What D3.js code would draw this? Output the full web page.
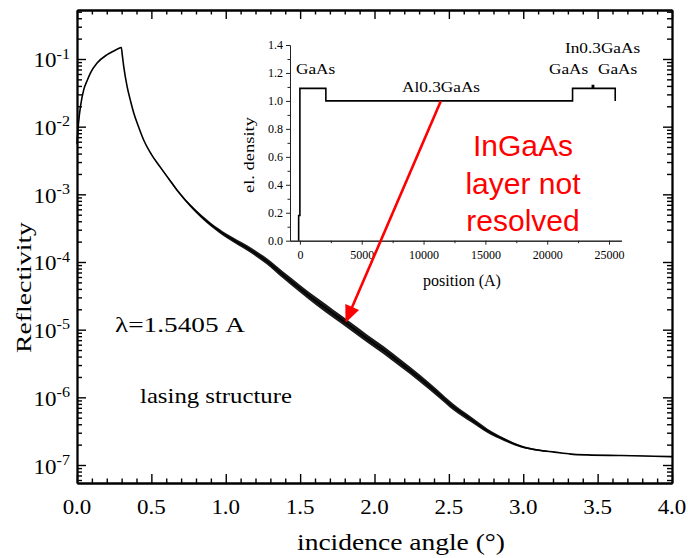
<!DOCTYPE html>
<meta charset="utf-8">
<style>
body { margin: 0; background: #fff; }
svg { display: block; }
text { font-family: "Liberation Serif", "Times New Roman", serif; fill: #000; }
.frame path, .frame line { stroke: #000; stroke-width: 1.8px; }
.inset path, .inset line { stroke: #222; stroke-width: 1px; }
</style>
<svg width="688" height="558"></svg>
<script src="https://d3js.org/d3.v7.min.js"></script>
<script>

// main curve: incidence angle (deg) vs reflectivity
var angle = [0.000, 0.010, 0.025, 0.045, 0.070, 0.090, 0.135, 0.200, 0.250, 0.287,
             0.298, 0.305, 0.314, 0.337, 0.360, 0.382, 0.410, 0.449, 0.500, 0.561,
             0.620, 0.673, 0.786, 0.898, 1.010, 1.150, 1.277, 1.390, 1.502, 1.614,
             1.726, 1.840, 1.950, 2.060, 2.175, 2.300, 2.420, 2.530, 2.650, 2.760,
             2.870, 2.980, 3.100, 3.210, 3.320, 3.430, 3.660, 3.880, 4.000];
var reflectivity = [5.6e-3, 1.12e-2, 2.1e-2, 3.5e-2, 4.9e-2, 6.2e-2, 8.7e-2, 1.15e-1, 1.32e-1, 1.45e-1,
                    1.48e-1, 1.12e-1, 7.8e-2, 3.9e-2, 2.4e-2, 1.58e-2, 1.05e-2, 6.3e-3, 3.9e-3, 2.5e-3,
                    1.66e-3, 1.15e-3, 6.0e-4, 3.6e-4, 2.4e-4, 1.58e-4, 1.02e-4, 6.3e-5, 4.0e-5, 2.57e-5,
                    1.70e-5, 1.12e-5, 7.4e-6, 5.0e-6, 3.2e-6, 1.95e-6, 1.17e-6, 7.2e-7, 4.7e-7, 3.2e-7,
                    2.4e-7, 1.9e-7, 1.66e-7, 1.55e-7, 1.45e-7, 1.41e-7, 1.38e-7, 1.35e-7, 1.33e-7];
// half width of the fringe band (decades)
var fringe = [0, 0, 0, 0, 0, 0, 0, 0, 0, 0,
              0, 0, 0, 0, 0, 0, 0, 0, 0.004, 0.008,
              0.013, 0.016, 0.022, 0.028, 0.033, 0.040, 0.046, 0.052, 0.056, 0.060,
              0.060, 0.060, 0.060, 0.060, 0.058, 0.055, 0.052, 0.047, 0.040, 0.032,
              0.024, 0.016, 0.010, 0.006, 0.004, 0.003, 0.003, 0.002, 0];

var xTicks = [0, 0.5, 1.0, 1.5, 2.0, 2.5, 3.0, 3.5, 4.0];
var yTicks = [1e-7, 1e-6, 1e-5, 1e-4, 1e-3, 1e-2, 1e-1];

// inset: electron density profile
var position = [-100, -100, 0, 0, 2100, 2100, 22050, 22050, 23650, 23650, 23750, 23750, 25500, 25500];
var density  = [0, 0.18, 0.18, 1.09, 1.09, 1.0, 1.0, 1.09, 1.09, 1.11, 1.11, 1.09, 1.09, 1.0];
var insetXTicks = [0, 5000, 10000, 15000, 20000, 25000];
var insetYTicks = [0, 0.2, 0.4, 0.6, 0.8, 1.0, 1.2, 1.4];

var svg = d3.select("svg");
var sx = 1.15; // the serif text in the picture is a little wide

function stext(g, str, px, py, size, anchor) {
  return g.append("text")
      .attr("transform", "translate(" + px + "," + py + ") scale(" + sx + ",1)")
      .attr("text-anchor", anchor || "start")
      .style("font-size", size + "px")
      .text(str);
}

var x = d3.scaleLinear().domain([0, 4]).range([77, 672]);
var y = d3.scaleLog().domain([Math.pow(10, -7.266), Math.pow(10, -0.276)]).range([483, 10]);

var xMinor = x.ticks(40).filter(function(d) { return Math.abs(d * 2 - Math.round(d * 2)) > 1e-6; });
var yMinor = y.ticks().filter(function(d) { return yTicks.indexOf(d) < 0; });

// frame with inward ticks on all four sides
function frame(axisFn, scale, vals, size, tr) {
  svg.append("g").attr("class", "frame").attr("transform", tr)
    .call(axisFn(scale).tickValues(vals).tickSize(-size).tickSizeOuter(0).tickFormat(""));
}
frame(d3.axisBottom, x, xTicks, 9, "translate(0,483)");
frame(d3.axisBottom, x, xMinor, 4.5, "translate(0,483)");
frame(d3.axisTop, x, xTicks, 9, "translate(0,10)");
frame(d3.axisTop, x, xMinor, 4.5, "translate(0,10)");
frame(d3.axisLeft, y, yTicks, 9, "translate(77,0)");
frame(d3.axisLeft, y, yMinor, 5, "translate(77,0)");
frame(d3.axisRight, y, yTicks, 9, "translate(672,0)");
frame(d3.axisRight, y, yMinor, 5, "translate(672,0)");
svg.selectAll(".frame line").style("stroke-width", "1.4px");

// tick labels
xTicks.forEach(function(d) {
  stext(svg, d3.format(".1f")(d), x(d), 514, 20, "middle");
});
yTicks.forEach(function(d) {
  var t = stext(svg, "10", 70, y(d) + 8.5, 20, "end");
  t.append("tspan").attr("dy", -9).style("font-size", "14px")
    .text(String(Math.round(Math.log10(d))));
});

// axis titles
svg.append("text")
    .attr("x", 401).attr("y", 550)
    .attr("text-anchor", "middle")
    .style("font-size", "24px")
    .attr("textLength", 208).attr("lengthAdjust", "spacingAndGlyphs")
    .text("incidence angle (\u00b0)");
svg.append("text")
    .attr("transform", "translate(31,287.5) rotate(-90)")
    .attr("text-anchor", "middle")
    .style("font-size", "22px")
    .attr("textLength", 131).attr("lengthAdjust", "spacingAndGlyphs")
    .text("Reflectivity");

// curve + fringe band
var idx = d3.range(angle.length);
var band = d3.area()
    .x(function(i) { return x(angle[i]); })
    .y0(function(i) { return y(reflectivity[i] / Math.pow(10, fringe[i])); })
    .y1(function(i) { return y(reflectivity[i] * Math.pow(10, fringe[i])); })
    .curve(d3.curveMonotoneX);
var line = d3.line()
    .x(function(i) { return x(angle[i]); })
    .y(function(i) { return y(reflectivity[i]); })
    .curve(d3.curveMonotoneX);

svg.append("path").datum(idx).attr("d", band).attr("fill", "#1a1a1a");
svg.append("path").datum(idx).attr("d", line)
    .attr("fill", "none").attr("stroke", "#000").attr("stroke-width", 1.6);

// annotations
svg.append("text")
    .attr("x", 115).attr("y", 332)
    .style("font-size", "22px")
    .attr("textLength", 130).attr("lengthAdjust", "spacingAndGlyphs")
    .text("\u03bb=1.5405 A");
svg.append("text")
    .attr("x", 140).attr("y", 403)
    .style("font-size", "22px")
    .attr("textLength", 152).attr("lengthAdjust", "spacingAndGlyphs")
    .text("lasing structure");

// ---- inset ----
var ix = d3.scaleLinear().domain([-800, 26000]).range([290, 621.4]);
var iy = d3.scaleLinear().domain([0, 1.4]).range([240.7, 45]);
var inset = svg.append("g");

var iyMinor = d3.range(0.1, 1.4, 0.2);
var ixMinor = d3.range(2500, 26000, 5000);

inset.append("g").attr("class", "inset").attr("transform", "translate(290,0)")
    .call(d3.axisLeft(iy).tickValues(insetYTicks).tickSize(4).tickSizeOuter(0)
      .tickFormat(d3.format(".1f")));
inset.append("g").attr("class", "inset").attr("transform", "translate(290,0)")
    .call(d3.axisLeft(iy).tickValues(iyMinor).tickSize(2.5).tickSizeOuter(0).tickFormat(""));
inset.append("g").attr("class", "inset").attr("transform", "translate(0,240.7)")
    .call(d3.axisBottom(ix).tickValues(insetXTicks).tickSize(4).tickSizeOuter(0).tickPadding(6)
      .tickFormat(d3.format("d")));
inset.append("g").attr("class", "inset").attr("transform", "translate(0,240.7)")
    .call(d3.axisBottom(ix).tickValues(ixMinor).tickSize(2.5).tickSizeOuter(0).tickFormat(""));
inset.selectAll(".inset text")
    .style("font-family", "'Liberation Serif', serif")
    .style("font-size", "12px")
    .style("fill", "#000");

inset.append("path")
    .datum(d3.range(position.length))
    .attr("d", d3.line()
      .x(function(i) { return ix(position[i]); })
      .y(function(i) { return iy(density[i]); }))
    .attr("fill", "none").attr("stroke", "#000").attr("stroke-width", 1.6);

inset.append("text")
    .attr("x", 462).attr("y", 286)
    .attr("text-anchor", "middle")
    .style("font-size", "16px")
    .text("position (A)");
inset.append("text")
    .attr("transform", "translate(254,155) rotate(-90)")
    .attr("text-anchor", "middle")
    .style("font-size", "14px")
    .attr("textLength", 76).attr("lengthAdjust", "spacingAndGlyphs")
    .text("el. density");

stext(inset, "GaAs", 296, 74, 15);
stext(inset, "Al0.3GaAs", 402, 92, 15);
stext(inset, "GaAs", 549, 74, 15);
stext(inset, "GaAs", 598, 74, 15);
stext(inset, "In0.3GaAs", 565, 52.5, 15);

// red note and arrow from the inset down to the curve
var note = ["InGaAs", "layer not", "resolved"];
note.forEach(function(s, i) {
  svg.append("text")
      .attr("x", 523).attr("y", 156 + i * 37.5)
      .attr("text-anchor", "middle")
      .style("font-family", "'Liberation Sans', Arial, sans-serif")
      .style("font-size", "30px")
      .style("fill", "#ff0000")
      .text(s);
});

var from = [ix(11400), iy(1.0)];
var tip = [x(1.805), y(1.27e-5)];
var dx = tip[0] - from[0], dy = tip[1] - from[1];
var len = Math.sqrt(dx * dx + dy * dy);
var ux = dx / len, uy = dy / len;
var headL = 17, headW = 7.5;
var base = [tip[0] - ux * headL, tip[1] - uy * headL];
svg.append("line")
    .attr("x1", from[0]).attr("y1", from[1])
    .attr("x2", base[0] + ux * 2).attr("y2", base[1] + uy * 2)
    .attr("stroke", "#ff0000").attr("stroke-width", 2.6);
svg.append("path")
    .attr("d", "M" + tip[0] + "," + tip[1] +
               "L" + (base[0] - uy * headW) + "," + (base[1] + ux * headW) +
               "L" + (base[0] + uy * headW) + "," + (base[1] - ux * headW) + "Z")
    .attr("fill", "#ff0000");

</script>
